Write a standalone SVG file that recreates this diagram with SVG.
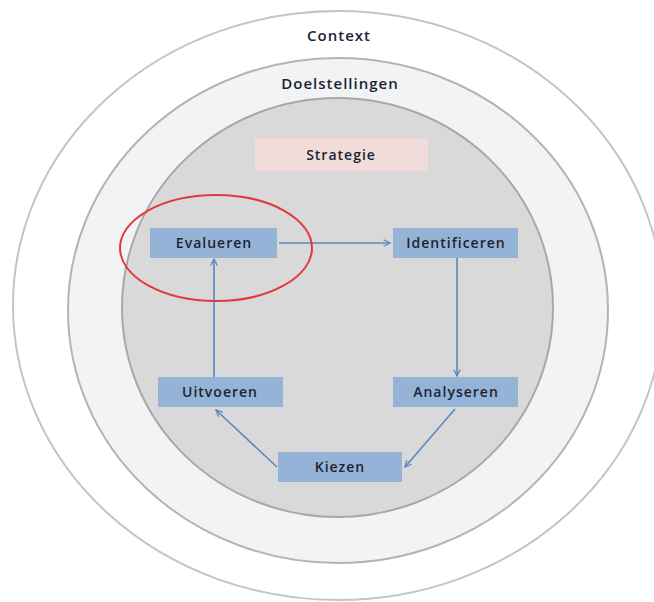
<svg xmlns="http://www.w3.org/2000/svg" width="654" height="602" viewBox="0 0 654 602">
<defs>
<style>
.ring{stroke:#b4b4b4;stroke-width:2}
.box{fill:#95b3d7}
.lbl{font-family:"Open Sans","Liberation Sans",Arial,sans-serif;font-size:14px;font-weight:600;letter-spacing:1px;fill:#1c2433;text-anchor:middle}
.edge{stroke:#5a87c0;stroke-width:1.6;fill:none;marker-end:url(#ah)}
</style>
<marker id="ah" viewBox="0 0 10 10" refX="9" refY="5" markerWidth="8" markerHeight="8" orient="auto" markerUnits="userSpaceOnUse">
<path d="M1,1 L9,5 L1,9" fill="none" stroke="#5a87c0" stroke-width="1.6"/>
</marker>
</defs>
<rect width="654" height="602" fill="#ffffff"/>
<g id="context">
<ellipse class="ring" cx="338" cy="305.5" rx="325" ry="294.5" fill="#ffffff" style="stroke:#c4c4c4"/>
<text class="lbl" x="339" y="41" style="font-size:15px">Context</text>
</g>
<g id="doelstellingen">
<ellipse class="ring" cx="338" cy="310.5" rx="270" ry="252.5" fill="#f2f3f5"/>
<text class="lbl" x="340" y="89" style="font-size:15px">Doelstellingen</text>
</g>
<g id="strategie-ring">
<ellipse class="ring" cx="337.5" cy="307.5" rx="215.5" ry="209.5" fill="#d9d9d9" style="stroke:#a8a8a8"/>
</g>
<g id="strategie">
<rect x="255" y="138" width="173" height="33" fill="#f2dcdb"/>
<text class="lbl" x="341" y="160">Strategie</text>
</g>
<g id="connectors">
<line class="edge" x1="279" y1="243" x2="390" y2="243"/>
<line class="edge" x1="457" y1="258" x2="457" y2="376"/>
<line class="edge" x1="455" y1="409" x2="405" y2="467"/>
<line class="edge" x1="277" y1="467" x2="216" y2="410"/>
<line class="edge" x1="214" y1="377" x2="214" y2="259"/>
</g>
<g id="evalueren">
<rect class="box" x="150" y="228" width="127" height="30"/>
<text class="lbl" x="214" y="248">Evalueren</text>
</g>
<g id="identificeren">
<rect class="box" x="393" y="228" width="125" height="30"/>
<text class="lbl" x="456" y="248">Identificeren</text>
</g>
<g id="analyseren">
<rect class="box" x="393" y="377" width="125" height="30"/>
<text class="lbl" x="456" y="397">Analyseren</text>
</g>
<g id="kiezen">
<rect class="box" x="278" y="452" width="124" height="30"/>
<text class="lbl" x="340" y="472">Kiezen</text>
</g>
<g id="uitvoeren">
<rect class="box" x="158" y="377" width="125" height="30"/>
<text class="lbl" x="220" y="397">Uitvoeren</text>
</g>
<g id="highlight">
<ellipse cx="216" cy="248" rx="96" ry="53" fill="none" stroke="#e0393e" stroke-width="2"/>
</g>
</svg>
